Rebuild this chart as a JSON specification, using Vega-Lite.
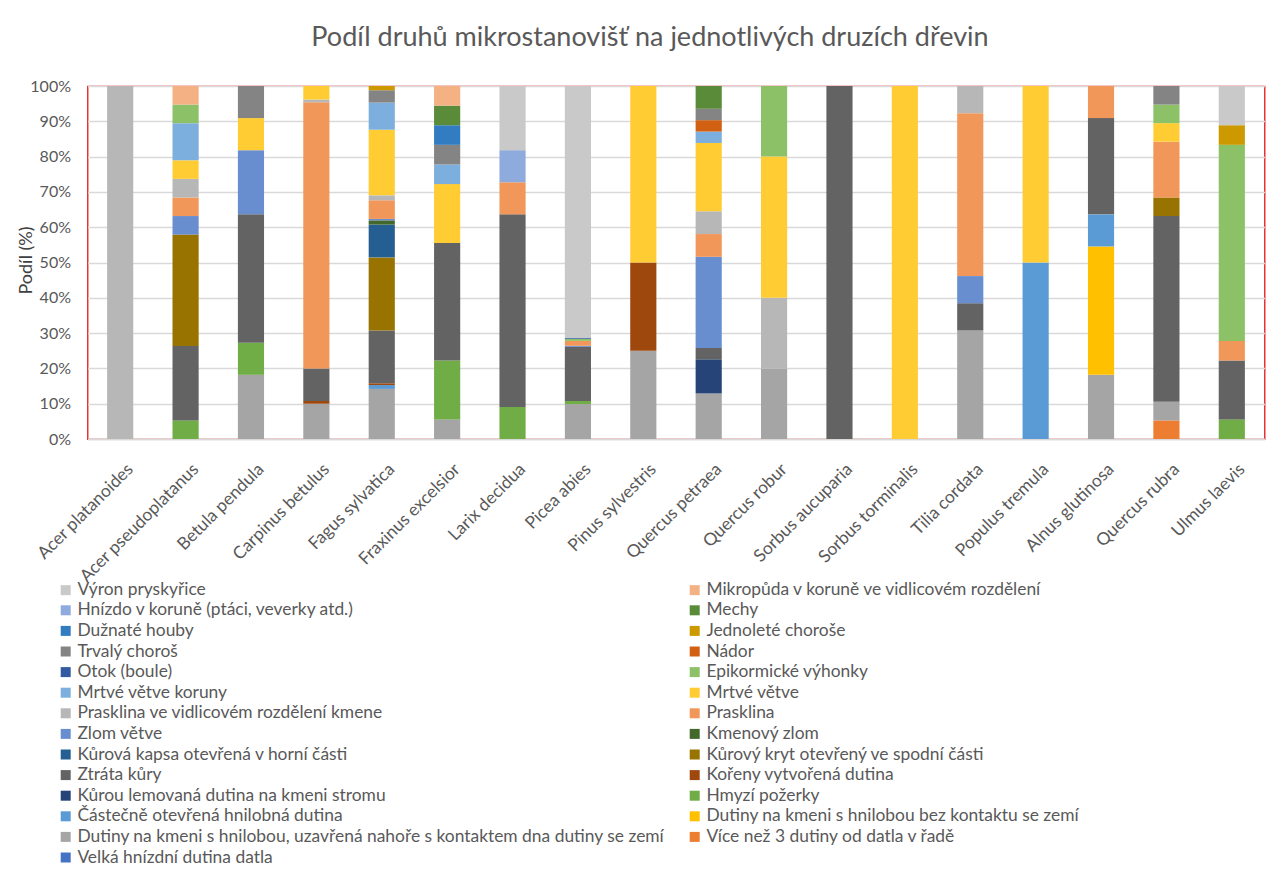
{
  "$schema": "https://vega.github.io/schema/vega-lite/v6.json",
  "autosize": {"type": "none"},
  "padding": {"left": 87.5, "top": 86, "right": 13.5, "bottom": 449},
  "width": 1177,
  "height": 353,
  "background": "white",
  "title": {
    "text": "Podíl druhů mikrostanovišť na jednotlivých druzích dřevin",
    "font": "Lato",
    "fontSize": 27,
    "fontWeight": "normal",
    "color": "#595959",
    "anchor": "middle",
    "dx": -26,
    "offset": 26
  },
  "datasets": {
    "kategorie": [
      {"k": "Velká hnízdní dutina datla", "r": 1},
      {"k": "Více než 3 dutiny od datla v řadě", "r": 2},
      {"k": "Dutiny na kmeni s hnilobou, uzavřená nahoře s kontaktem dna dutiny se zemí", "r": 3},
      {"k": "Dutiny na kmeni s hnilobou bez kontaktu se zemí", "r": 4},
      {"k": "Částečně otevřená hnilobná dutina", "r": 5},
      {"k": "Hmyzí požerky", "r": 6},
      {"k": "Kůrou lemovaná dutina na kmeni stromu", "r": 7},
      {"k": "Kořeny vytvořená dutina", "r": 8},
      {"k": "Ztráta kůry", "r": 9},
      {"k": "Kůrový kryt otevřený ve spodní části", "r": 10},
      {"k": "Kůrová kapsa otevřená v horní části", "r": 11},
      {"k": "Kmenový zlom", "r": 12},
      {"k": "Zlom větve", "r": 13},
      {"k": "Prasklina", "r": 14},
      {"k": "Prasklina ve vidlicovém rozdělení kmene", "r": 15},
      {"k": "Mrtvé větve", "r": 16},
      {"k": "Mrtvé větve koruny", "r": 17},
      {"k": "Epikormické výhonky", "r": 18},
      {"k": "Otok (boule)", "r": 19},
      {"k": "Nádor", "r": 20},
      {"k": "Trvalý choroš", "r": 21},
      {"k": "Jednoleté choroše", "r": 22},
      {"k": "Dužnaté houby", "r": 23},
      {"k": "Mechy", "r": 24},
      {"k": "Hnízdo v koruně (ptáci, veverky atd.)", "r": 25},
      {"k": "Mikropůda v koruně ve vidlicovém rozdělení", "r": 26},
      {"k": "Výron pryskyřice", "r": 27}
    ],
    "podil": [
      {"d": "Acer platanoides", "k": "Prasklina ve vidlicovém rozdělení kmene", "v": 100},

      {"d": "Acer pseudoplatanus", "k": "Hmyzí požerky", "v": 5.26},
      {"d": "Acer pseudoplatanus", "k": "Ztráta kůry", "v": 21.05},
      {"d": "Acer pseudoplatanus", "k": "Kůrový kryt otevřený ve spodní části", "v": 31.58},
      {"d": "Acer pseudoplatanus", "k": "Zlom větve", "v": 5.26},
      {"d": "Acer pseudoplatanus", "k": "Prasklina", "v": 5.26},
      {"d": "Acer pseudoplatanus", "k": "Prasklina ve vidlicovém rozdělení kmene", "v": 5.26},
      {"d": "Acer pseudoplatanus", "k": "Mrtvé větve", "v": 5.26},
      {"d": "Acer pseudoplatanus", "k": "Mrtvé větve koruny", "v": 10.53},
      {"d": "Acer pseudoplatanus", "k": "Epikormické výhonky", "v": 5.26},
      {"d": "Acer pseudoplatanus", "k": "Mikropůda v koruně ve vidlicovém rozdělení", "v": 5.26},

      {"d": "Betula pendula", "k": "Dutiny na kmeni s hnilobou, uzavřená nahoře s kontaktem dna dutiny se zemí", "v": 18.18},
      {"d": "Betula pendula", "k": "Hmyzí požerky", "v": 9.09},
      {"d": "Betula pendula", "k": "Ztráta kůry", "v": 36.36},
      {"d": "Betula pendula", "k": "Zlom větve", "v": 18.18},
      {"d": "Betula pendula", "k": "Mrtvé větve", "v": 9.09},
      {"d": "Betula pendula", "k": "Trvalý choroš", "v": 9.09},

      {"d": "Carpinus betulus", "k": "Dutiny na kmeni s hnilobou, uzavřená nahoře s kontaktem dna dutiny se zemí", "v": 10},
      {"d": "Carpinus betulus", "k": "Kořeny vytvořená dutina", "v": 0.77},
      {"d": "Carpinus betulus", "k": "Ztráta kůry", "v": 9.23},
      {"d": "Carpinus betulus", "k": "Prasklina", "v": 75.38},
      {"d": "Carpinus betulus", "k": "Prasklina ve vidlicovém rozdělení kmene", "v": 0.77},
      {"d": "Carpinus betulus", "k": "Mrtvé větve", "v": 3.85},

      {"d": "Fagus sylvatica", "k": "Dutiny na kmeni s hnilobou, uzavřená nahoře s kontaktem dna dutiny se zemí", "v": 14.2},
      {"d": "Fagus sylvatica", "k": "Částečně otevřená hnilobná dutina", "v": 1.1},
      {"d": "Fagus sylvatica", "k": "Kořeny vytvořená dutina", "v": 0.5},
      {"d": "Fagus sylvatica", "k": "Ztráta kůry", "v": 15},
      {"d": "Fagus sylvatica", "k": "Kůrový kryt otevřený ve spodní části", "v": 20.7},
      {"d": "Fagus sylvatica", "k": "Kůrová kapsa otevřená v horní části", "v": 9.3},
      {"d": "Fagus sylvatica", "k": "Kmenový zlom", "v": 1.2},
      {"d": "Fagus sylvatica", "k": "Zlom větve", "v": 0.4},
      {"d": "Fagus sylvatica", "k": "Prasklina", "v": 5.3},
      {"d": "Fagus sylvatica", "k": "Prasklina ve vidlicovém rozdělení kmene", "v": 1.4},
      {"d": "Fagus sylvatica", "k": "Mrtvé větve", "v": 18.6},
      {"d": "Fagus sylvatica", "k": "Mrtvé větve koruny", "v": 7.7},
      {"d": "Fagus sylvatica", "k": "Trvalý choroš", "v": 3.5},
      {"d": "Fagus sylvatica", "k": "Jednoleté choroše", "v": 1.2},

      {"d": "Fraxinus excelsior", "k": "Dutiny na kmeni s hnilobou, uzavřená nahoře s kontaktem dna dutiny se zemí", "v": 5.56},
      {"d": "Fraxinus excelsior", "k": "Hmyzí požerky", "v": 16.67},
      {"d": "Fraxinus excelsior", "k": "Ztráta kůry", "v": 33.33},
      {"d": "Fraxinus excelsior", "k": "Mrtvé větve", "v": 16.67},
      {"d": "Fraxinus excelsior", "k": "Mrtvé větve koruny", "v": 5.56},
      {"d": "Fraxinus excelsior", "k": "Trvalý choroš", "v": 5.56},
      {"d": "Fraxinus excelsior", "k": "Dužnaté houby", "v": 5.56},
      {"d": "Fraxinus excelsior", "k": "Mechy", "v": 5.56},
      {"d": "Fraxinus excelsior", "k": "Mikropůda v koruně ve vidlicovém rozdělení", "v": 5.56},

      {"d": "Larix decidua", "k": "Hmyzí požerky", "v": 9.09},
      {"d": "Larix decidua", "k": "Ztráta kůry", "v": 54.55},
      {"d": "Larix decidua", "k": "Prasklina", "v": 9.09},
      {"d": "Larix decidua", "k": "Hnízdo v koruně (ptáci, veverky atd.)", "v": 9.09},
      {"d": "Larix decidua", "k": "Výron pryskyřice", "v": 18.18},

      {"d": "Picea abies", "k": "Dutiny na kmeni s hnilobou, uzavřená nahoře s kontaktem dna dutiny se zemí", "v": 9.9},
      {"d": "Picea abies", "k": "Hmyzí požerky", "v": 0.9},
      {"d": "Picea abies", "k": "Ztráta kůry", "v": 15.3},
      {"d": "Picea abies", "k": "Zlom větve", "v": 0.3},
      {"d": "Picea abies", "k": "Prasklina", "v": 1.4},
      {"d": "Picea abies", "k": "Epikormické výhonky", "v": 0.6},
      {"d": "Picea abies", "k": "Otok (boule)", "v": 0.3},
      {"d": "Picea abies", "k": "Výron pryskyřice", "v": 71.3},

      {"d": "Pinus sylvestris", "k": "Dutiny na kmeni s hnilobou, uzavřená nahoře s kontaktem dna dutiny se zemí", "v": 25},
      {"d": "Pinus sylvestris", "k": "Kořeny vytvořená dutina", "v": 25},
      {"d": "Pinus sylvestris", "k": "Mrtvé větve", "v": 50},

      {"d": "Quercus petraea", "k": "Dutiny na kmeni s hnilobou, uzavřená nahoře s kontaktem dna dutiny se zemí", "v": 12.9},
      {"d": "Quercus petraea", "k": "Kůrou lemovaná dutina na kmeni stromu", "v": 9.68},
      {"d": "Quercus petraea", "k": "Ztráta kůry", "v": 3.23},
      {"d": "Quercus petraea", "k": "Zlom větve", "v": 25.81},
      {"d": "Quercus petraea", "k": "Prasklina", "v": 6.45},
      {"d": "Quercus petraea", "k": "Prasklina ve vidlicovém rozdělení kmene", "v": 6.45},
      {"d": "Quercus petraea", "k": "Mrtvé větve", "v": 19.35},
      {"d": "Quercus petraea", "k": "Mrtvé větve koruny", "v": 3.23},
      {"d": "Quercus petraea", "k": "Nádor", "v": 3.23},
      {"d": "Quercus petraea", "k": "Trvalý choroš", "v": 3.23},
      {"d": "Quercus petraea", "k": "Mechy", "v": 6.45},

      {"d": "Quercus robur", "k": "Dutiny na kmeni s hnilobou, uzavřená nahoře s kontaktem dna dutiny se zemí", "v": 20},
      {"d": "Quercus robur", "k": "Prasklina ve vidlicovém rozdělení kmene", "v": 20},
      {"d": "Quercus robur", "k": "Mrtvé větve", "v": 40},
      {"d": "Quercus robur", "k": "Epikormické výhonky", "v": 20},

      {"d": "Sorbus aucuparia", "k": "Ztráta kůry", "v": 100},

      {"d": "Sorbus torminalis", "k": "Mrtvé větve", "v": 100},

      {"d": "Tilia cordata", "k": "Dutiny na kmeni s hnilobou, uzavřená nahoře s kontaktem dna dutiny se zemí", "v": 30.77},
      {"d": "Tilia cordata", "k": "Ztráta kůry", "v": 7.69},
      {"d": "Tilia cordata", "k": "Zlom větve", "v": 7.69},
      {"d": "Tilia cordata", "k": "Prasklina", "v": 46.15},
      {"d": "Tilia cordata", "k": "Prasklina ve vidlicovém rozdělení kmene", "v": 7.69},

      {"d": "Populus tremula", "k": "Částečně otevřená hnilobná dutina", "v": 50},
      {"d": "Populus tremula", "k": "Mrtvé větve", "v": 50},

      {"d": "Alnus glutinosa", "k": "Dutiny na kmeni s hnilobou, uzavřená nahoře s kontaktem dna dutiny se zemí", "v": 18.18},
      {"d": "Alnus glutinosa", "k": "Dutiny na kmeni s hnilobou bez kontaktu se zemí", "v": 36.36},
      {"d": "Alnus glutinosa", "k": "Částečně otevřená hnilobná dutina", "v": 9.09},
      {"d": "Alnus glutinosa", "k": "Ztráta kůry", "v": 27.27},
      {"d": "Alnus glutinosa", "k": "Prasklina", "v": 9.09},

      {"d": "Quercus rubra", "k": "Více než 3 dutiny od datla v řadě", "v": 5.26},
      {"d": "Quercus rubra", "k": "Dutiny na kmeni s hnilobou, uzavřená nahoře s kontaktem dna dutiny se zemí", "v": 5.26},
      {"d": "Quercus rubra", "k": "Ztráta kůry", "v": 52.63},
      {"d": "Quercus rubra", "k": "Kůrový kryt otevřený ve spodní části", "v": 5.26},
      {"d": "Quercus rubra", "k": "Prasklina", "v": 15.79},
      {"d": "Quercus rubra", "k": "Mrtvé větve", "v": 5.26},
      {"d": "Quercus rubra", "k": "Epikormické výhonky", "v": 5.26},
      {"d": "Quercus rubra", "k": "Trvalý choroš", "v": 5.26},

      {"d": "Ulmus laevis", "k": "Hmyzí požerky", "v": 5.56},
      {"d": "Ulmus laevis", "k": "Ztráta kůry", "v": 16.67},
      {"d": "Ulmus laevis", "k": "Prasklina", "v": 5.56},
      {"d": "Ulmus laevis", "k": "Epikormické výhonky", "v": 55.56},
      {"d": "Ulmus laevis", "k": "Jednoleté choroše", "v": 5.56},
      {"d": "Ulmus laevis", "k": "Výron pryskyřice", "v": 11.11}
    ]
  },
  "data": {"name": "podil"},
  "transform": [
    {"lookup": "k", "from": {"data": {"name": "kategorie"}, "key": "k", "fields": ["r"]}}
  ],
  "mark": {"type": "bar"},
  "encoding": {
    "x": {
      "field": "d",
      "type": "nominal",
      "sort": null,
      "scale": {"paddingInner": 0.6, "paddingOuter": 0.3},
      "axis": {
        "title": null,
        "labelAngle": -45,
        "labelFont": "Lato",
        "labelFontSize": 17.4,
        "labelColor": "#595959",
        "labelPadding": 21,
        "labelOffset": 4,
        "ticks": false,
        "domainColor": "#D9D9D9",
        "domainWidth": 1.3
      }
    },
    "y": {
      "field": "v",
      "type": "quantitative",
      "stack": "normalize",
      "scale": {"domain": [0, 1], "nice": false},
      "axis": {
        "title": "Podíl (%)",
        "format": ".0%",
        "values": [0, 0.1, 0.2, 0.3, 0.4, 0.5, 0.6, 0.7, 0.8, 0.9, 1],
        "labelFont": "Lato",
        "labelFontSize": 16,
        "labelColor": "#595959",
        "labelPadding": 17,
        "ticks": false,
        "domain": false,
        "gridColor": "#D9D9D9",
        "gridWidth": 1.3,
        "titleFont": "Lato",
        "titleFontSize": 18,
        "titleFontWeight": "normal",
        "titleColor": "#404040",
        "titleAngle": -90,
        "titleAlign": "center",
        "titleBaseline": "middle",
        "titleX": -61,
        "titleY": 174
      }
    },
    "order": {"field": "r", "type": "quantitative", "sort": "ascending"},
    "color": {
      "field": "k",
      "type": "nominal",
      "scale": {
        "domain": [
          "Výron pryskyřice",
          "Mikropůda v koruně ve vidlicovém rozdělení",
          "Hnízdo v koruně (ptáci, veverky atd.)",
          "Mechy",
          "Dužnaté houby",
          "Jednoleté choroše",
          "Trvalý choroš",
          "Nádor",
          "Otok (boule)",
          "Epikormické výhonky",
          "Mrtvé větve koruny",
          "Mrtvé větve",
          "Prasklina ve vidlicovém rozdělení kmene",
          "Prasklina",
          "Zlom větve",
          "Kmenový zlom",
          "Kůrová kapsa otevřená v horní části",
          "Kůrový kryt otevřený ve spodní části",
          "Ztráta kůry",
          "Kořeny vytvořená dutina",
          "Kůrou lemovaná dutina na kmeni stromu",
          "Hmyzí požerky",
          "Částečně otevřená hnilobná dutina",
          "Dutiny na kmeni s hnilobou bez kontaktu se zemí",
          "Dutiny na kmeni s hnilobou, uzavřená nahoře s kontaktem dna dutiny se zemí",
          "Více než 3 dutiny od datla v řadě",
          "Velká hnízdní dutina datla"
        ],
        "range": [
          "#C9C9C9", "#F4B183", "#8FAADC", "#5A8B39", "#327DC2", "#CC9A00",
          "#848484", "#D26012", "#335AA1", "#8CC168", "#7CAFDD", "#FFCD33",
          "#B7B7B7", "#F1975A", "#698ED0", "#43682B", "#255E91", "#997300",
          "#636363", "#9E480E", "#264478", "#70AD47", "#5B9BD5", "#FFC000",
          "#A5A5A5", "#ED7D31", "#4472C4"
        ]
      },
      "legend": {
        "title": null,
        "orient": "none",
        "direction": "horizontal",
        "legendX": -30.5,
        "legendY": 495,
        "columns": 2,
        "symbolType": "square",
        "symbolSize": 100,
        "symbolStrokeWidth": 0,
        "labelFont": "Lato",
        "labelFontSize": 17.4,
        "labelColor": "#595959",
        "labelLimit": 700,
        "labelOffset": 3,
        "rowPadding": 1.6,
        "columnPadding": 21
      }
    }
  },
  "config": {
    "view": {"stroke": "#E00000", "strokeWidth": 1.2},
    "font": "Lato"
  }
}
